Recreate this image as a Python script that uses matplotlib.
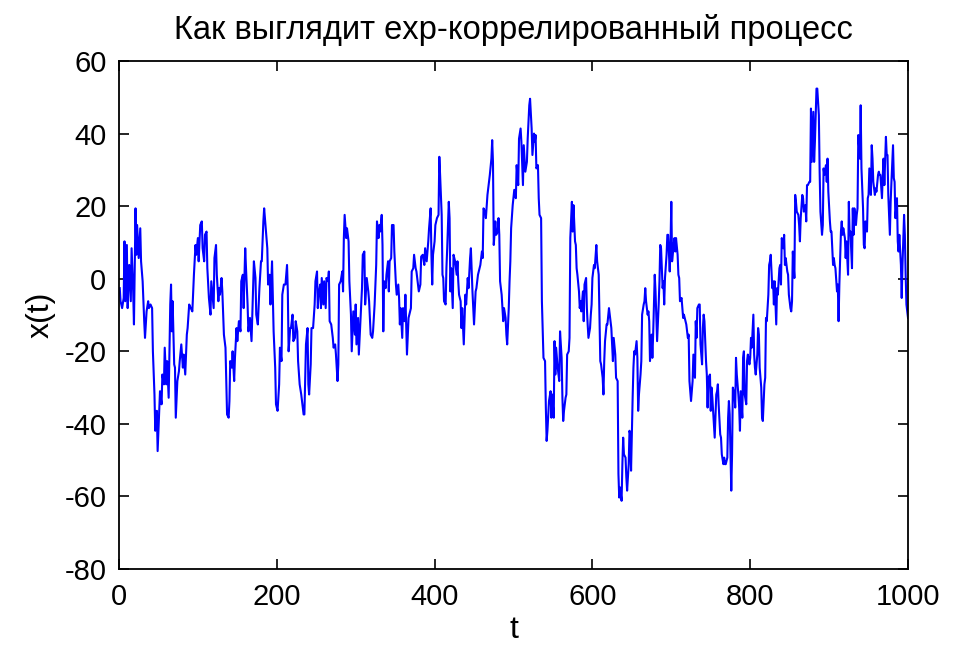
import matplotlib
matplotlib.use("Agg")
import matplotlib.pyplot as plt

# exp-correlated process x(t), sampled segment by segment over t = 1..1000
t_a = [1, 2, 4, 6, 7, 8, 10, 11, 12, 13, 15, 16, 18, 19, 21, 22, 23, 25, 27, 28,
       30, 32, 33, 35, 37, 38, 40, 42, 43, 45, 46, 48, 49, 51, 52, 54, 55, 57, 58, 60,
       61, 63, 65, 66, 67, 68, 70, 71, 72, 74, 76, 77, 79, 81, 82, 84, 86, 87, 89, 91,
       93, 95, 97, 98, 100, 101, 103, 105, 106, 108, 109, 111, 112, 114, 116, 117]
x_a = [-2.6, -6.2, -8.1, -5.3, 10.3, -6.2, 9.3, -8.1, -1.6, 3.8, -6.2, 8.4, -3.5, -12.6, 19.4, 6.6, 14.8, 5.7, 13.9, 4.8,
       -0.7, -11.7, -16.3, -9.0, -6.2, -8.1, -7.1, -8.1, -20.0, -31.9, -41.9, -36.4, -47.5, -36.4, -31.0, -34.6, -26.4, -29.1, -19.0, -29.1,
       -22.7, -32.8, -7.1, -1.6, -14.5, -6.2, -23.6, -24.5, -38.3, -28.2, -25.5, -22.7, -18.1, -24.5, -20.9, -26.4, -15.4, -13.6, -7.1, -8.1,
       -9.0, 1.1, 9.3, 6.6, 11.2, 4.8, 14.8, 15.8, 8.4, 4.8, 12.1, 13.0, 2.9, -5.3, -9.9, -0.7]

t_b = [120, 121, 123, 124, 126, 127, 128, 130, 131, 133, 135, 136, 137, 139, 140, 141, 143, 144, 146, 147,
       149, 150, 152, 154, 155, 157, 158, 160, 161, 163, 164, 166, 168, 169, 171, 173, 174, 176, 178, 180,
       181, 183, 184, 185, 187, 188, 189, 191, 192, 194, 195, 196, 198, 199, 201, 203, 204, 206, 207, 209,
       211, 213, 214, 215, 217, 218, 220, 221, 223, 224, 226, 227, 229, 231, 232, 234, 235, 237, 239, 240,
       241, 243, 244]
x_b = [-8.1, 5.7, 9.3, 1.1, -6.2, -2.6, -4.4, 0.2, -3.5, -15.4, -19.0, -28.2, -37.4, -38.3, -33.7, -22.7, -24.5, -20.0, -28.2, -21.8,
       -13.6, -17.2, -11.7, -14.5, -0.7, 1.1, -8.1, 8.4, 2.9, -7.1, -14.5, -10.8, -17.2, -9.9, 4.8, 0.2, -9.9, -12.6, -2.6, 4.8,
       4.8, 15.8, 19.4, 16.7, 11.2, 8.4, -1.6, 1.1, -7.1, 4.8, -4.4, -14.5, -24.5, -34.6, -36.4, -29.1, -19.0, -22.7, -4.4, -1.6,
       -1.6, 3.8, -3.5, -20.0, -13.6, -13.6, -9.9, -17.2, -16.3, -11.7, -14.5, -22.7, -29.1, -31.9, -33.7, -37.4, -37.4, -18.1, -13.6, -29.1,
       -31.9, -23.6, -13.6]

t_c = [246, 248, 249, 251, 252, 253, 255, 256, 257, 259, 260, 262, 263, 265, 266, 267, 269, 271, 272, 274,
       275, 277, 278, 279, 281, 283, 284, 285, 286, 288, 289, 291, 292, 294, 295, 297, 299, 300, 301, 303,
       304, 306, 308, 309, 311, 312, 314, 316, 317, 319, 321, 322, 324, 326, 327, 329, 330, 331, 333, 334,
       335, 336, 338, 339, 341, 342, 343, 345, 346, 348, 349, 351, 352, 354, 355, 356, 357, 359, 360, 362,
       363, 365, 367, 368, 370, 371]
x_c = [-13.6, -7.1, -0.7, 2.0, -8.1, -4.4, -1.6, -8.1, 0.2, -7.1, -0.7, -8.1, 0.2, -0.7, 2.0, -11.7, -12.6, -16.3, -19.0, -18.1,
       -20.9, -28.2, -23.6, -1.6, -0.7, 2.0, -3.5, 11.2, 17.6, 11.2, 13.9, 10.3, -0.7, -9.9, -20.0, -9.0, -15.4, -7.1, -18.1, -10.8,
       -20.9, -11.7, -2.6, 6.6, 7.5, -7.1, 0.2, -3.5, -6.2, -15.4, -16.3, -14.5, -7.1, 3.8, 15.8, 11.2, 14.8, 13.0, 17.6, 9.3,
       -14.5, -0.7, -2.6, 1.1, 4.8, -3.5, 4.8, 5.7, 14.8, 14.8, 7.5, -1.6, -4.4, -1.6, -5.3, -12.6, -8.1, -16.3, -8.1, -11.7,
       -4.4, -20.9, -10.8, -9.9, -8.1, 2.0]

t_d = [373, 374, 376, 377, 378, 380, 382, 383, 385, 387, 388, 390, 392, 393, 395, 396, 397, 398, 400, 401,
       403, 405, 406, 407, 409, 410, 411, 412, 414, 415, 416, 418, 419, 420, 421, 423, 424, 425, 426, 428,
       429, 430, 431, 433, 434, 435, 437, 438, 439, 440, 442, 443, 445, 446, 448, 449, 450, 452, 453, 455,
       457, 458, 460, 461, 462, 464, 465, 467, 469, 470, 472, 473, 474, 475, 477, 478, 480, 481, 482, 483,
       485, 486, 487, 488, 490, 491, 492, 494, 495, 496, 497]
x_d = [2.9, 6.6, 2.9, 2.0, 0.2, -3.5, -1.6, 6.1, 6.6, 3.8, 8.4, 4.8, 10.3, 13.9, 19.4, 6.6, -1.6, 6.6, 10.3, 14.8,
       16.7, 17.6, 33.6, 28.6, 17.6, 1.1, 0.2, -6.2, -7.1, 2.9, 8.4, 21.2, 16.7, -3.5, 2.9, -8.1, 6.6, 5.7, 4.8, 1.1,
       4.8, -0.7, -4.4, -6.2, -13.6, -8.1, -18.1, -10.8, -4.4, -7.1, 0.2, -2.6, 5.7, 8.4, -3.5, -8.1, -12.6, -3.5, -2.6, 1.1,
       2.9, 3.8, 7.5, 5.7, 19.4, 18.5, 16.7, 23.1, 26.7, 28.6, 33.1, 38.2, 32.2, 9.3, 15.8, 12.1, 13.0, 16.7, 12.1, -0.7,
       -4.4, -8.1, -11.7, -8.1, -10.8, -15.4, -18.1, -8.1, -0.7, 4.8, 13.9]

t_e = [499, 501, 503, 504, 506, 507, 509, 510, 512, 513, 515, 517, 518, 520, 521, 523, 524, 526, 527, 528,
       529, 531, 532, 533, 535, 536, 538, 540, 541, 542, 543, 545, 547, 548, 549, 551, 552, 553, 554, 556,
       557, 558, 559, 561, 562, 563, 564, 566, 567, 568, 570, 571, 572, 574, 575, 576, 578, 579, 580, 581,
       583, 584, 585, 586, 588, 589, 590, 592, 593, 594, 595, 597, 598, 599, 600, 602, 603, 605, 606, 608,
       609, 610, 611, 613, 614, 615, 616, 618, 619, 621, 622, 623, 624]
x_e = [20.3, 24.5, 22.2, 31.3, 25.8, 38.6, 41.4, 37.7, 25.8, 36.8, 29.5, 32.2, 38.6, 47.8, 49.6, 41.4, 34.1, 40.0, 37.7, 39.6,
       30.4, 31.3, 22.2, 17.6, 16.7, -6.2, -21.8, -22.7, -35.5, -44.7, -41.9, -33.7, -31.0, -38.3, -31.9, -38.3, -17.2, -26.4, -19.0, -24.5,
       -26.4, -28.2, -14.5, -21.8, -32.8, -39.2, -36.4, -32.8, -31.9, -20.9, -20.0, -16.3, 11.2, 21.2, 13.0, 20.3, 10.3, 9.3, 2.9, 1.1,
       -3.5, -8.1, -6.2, -9.0, -3.5, -11.7, -1.6, 0.2, -8.1, -12.6, -16.3, -13.6, -9.9, -7.1, 0.2, 3.8, 2.9, 9.3, 4.8, 1.1,
       -11.7, -22.7, -23.6, -27.3, -31.9, -22.7, -17.2, -12.6, -12.6, -8.1, -9.9, -11.7, -13.6]

t_f = [626, 627, 629, 630, 632, 633, 634, 635, 637, 638, 639, 640, 642, 643, 644, 646, 647, 648, 649, 651,
       652, 653, 654, 656, 657, 658, 659, 661, 662, 663, 665, 666, 667, 668, 670, 671, 672, 673, 675, 676,
       677, 679, 680, 681, 682, 684, 685, 686, 687, 689, 690, 691, 692, 694, 695, 696, 698, 699, 700, 701,
       703, 704, 705, 706, 708, 709, 710, 711, 713, 714, 715, 716, 718, 719, 721, 722, 723, 725, 726, 727,
       728, 730, 731, 732, 733, 735, 736, 737, 739, 740, 741, 742, 744, 745, 746, 747, 749, 750, 751, 752,
       754, 755]
x_f = [-22.7, -16.3, -20.9, -27.3, -28.2, -53.8, -60.3, -57.5, -61.2, -51.1, -43.8, -48.4, -49.3, -54.7, -58.4, -51.1, -41.9, -42.9, -52.9, -32.8,
       -24.5, -20.0, -20.9, -17.2, -21.8, -36.4, -31.9, -26.4, -22.7, -9.9, -7.1, -6.2, -2.6, -6.2, -9.9, -9.0, -11.7, -22.7, -15.4, -21.8,
       -15.4, 1.1, -3.5, -9.9, -17.2, -7.1, -0.7, 9.3, 8.4, -2.6, -0.7, -7.1, 0.2, 6.6, 12.1, 12.1, 2.0, 9.3, 21.2, 4.8,
       9.3, 11.2, 7.5, 11.2, 6.6, 1.1, 0.2, -6.2, -5.3, -8.1, -10.8, -9.9, -11.7, -12.6, -16.3, -15.4, -28.2, -33.7, -31.0, -28.2,
       -20.9, -27.3, -11.7, -16.3, -8.1, -7.1, -7.1, -18.1, -23.6, -13.6, -9.9, -11.7, -22.7, -26.4, -35.5, -27.3, -26.4, -36.4, -30.0, -32.8,
       -40.1, -43.8]

t_g = [757, 758, 759, 760, 762, 763, 764, 766, 767, 768, 769, 771, 772, 773, 774, 776, 777, 778, 780, 781,
       782, 783, 785, 786, 787, 788, 790, 791, 792, 793, 795, 796, 797, 799, 800, 801, 802, 804, 805, 806,
       807, 809, 810, 811, 812, 814, 815, 816, 818, 819, 820, 821, 823, 824, 825, 826, 828, 829, 830, 831,
       833, 834, 835, 837, 838, 839, 840, 842, 843, 844, 845, 847, 848, 849, 851, 852, 853, 854, 856, 857,
       858, 859, 861, 862, 863, 864, 866, 867, 868, 870, 871, 872, 873, 875, 876, 877, 878]
x_g = [-31.9, -31.0, -29.1, -34.6, -42.9, -43.8, -48.4, -51.1, -49.3, -51.1, -51.1, -49.3, -38.3, -33.7, -37.4, -58.4, -48.4, -30.0, -31.9, -35.5,
       -21.8, -26.4, -31.9, -35.5, -41.9, -31.0, -38.3, -21.8, -20.0, -31.9, -34.6, -22.7, -20.9, -23.6, -21.8, -16.3, -19.0, -9.9, -20.9, -24.5,
       -26.4, -20.9, -13.6, -15.4, -24.5, -30.0, -38.3, -39.2, -29.1, -27.3, -10.8, -11.7, -4.4, 3.8, 4.8, 6.6, -2.6, -0.7, -7.1, -0.7,
       -12.6, -2.6, -4.4, 2.9, 3.8, -1.6, 11.2, 8.4, 12.1, 3.8, 5.7, 2.0, 1.1, -4.4, -8.1, -9.0, -6.2, 7.5, 0.2, 23.1,
       21.2, 18.5, 17.6, 14.8, 10.3, 16.7, 23.1, 22.2, 18.5, 20.3, 15.8, 25.8, 25.8, 26.7, 26.7, 46.9, 32.2]

t_h = [880, 881, 882, 883, 884, 885, 887, 888, 889, 891, 892, 893, 894, 896, 897, 898, 899, 901, 902, 903,
       905, 906, 907, 908, 910, 911, 912, 913, 915, 916, 917, 918, 920, 921, 922, 924, 925, 926, 927, 929,
       930, 931, 932, 934, 935, 936, 937, 939, 940, 941, 943, 944, 945, 946, 948, 949, 950, 951, 953, 954,
       955, 956, 958, 959, 960, 962, 963, 964, 965, 967, 968, 969, 970, 972, 973, 974, 975, 977, 978, 979,
       981, 982, 983, 984, 986, 987, 988, 989, 991, 992, 993, 995, 996, 997, 998, 1000]
x_h = [46.0, 32.2, 37.7, 45.1, 52.4, 52.4, 45.1, 29.5, 18.5, 12.1, 14.8, 30.4, 28.6, 31.3, 26.7, 33.1, 24.0, 15.8, 13.0, 13.0,
       3.8, 5.7, 3.8, 2.9, -3.5, -1.6, -11.7, -1.6, 13.0, 15.8, 12.1, 13.9, 11.2, 5.7, 10.3, 1.1, 21.2, 12.1, 13.0, 2.9,
       19.4, 12.1, 19.4, 14.8, 17.6, 19.4, 39.6, 33.1, 47.8, 30.4, 19.4, 9.3, 8.4, 15.8, 13.0, 22.2, 23.1, 30.4, 23.1, 36.8,
       33.1, 26.7, 23.1, 24.9, 24.0, 28.6, 29.5, 28.6, 28.6, 22.2, 28.6, 33.1, 25.8, 39.1, 34.1, 34.1, 23.1, 12.1, 21.2, 26.7,
       36.8, 27.7, 26.7, 16.7, 22.2, 10.3, 7.5, 12.1, 3.8, -5.3, 3.8, 17.6, 12.1, 1.1, -7.1, -10.8]

segments = [(t_a, x_a), (t_b, x_b), (t_c, x_c), (t_d, x_d),
            (t_e, x_e), (t_f, x_f), (t_g, x_g), (t_h, x_h)]
t = []
x = []
for ts, xs in segments:
    assert len(ts) == len(xs), (ts[0], len(ts), len(xs))
    t += ts
    x += xs

plt.rcParams['font.family'] = ['Liberation Sans', 'DejaVu Sans']
plt.rcParams['axes.unicode_minus'] = False

fig = plt.figure(figsize=(9.54, 6.45), dpi=100)
ax = fig.add_axes([0.1247, 0.1178, 0.8271, 0.7876])

ax.plot(t, x, color='#0000ff', linewidth=1.5)

ax.set_xlim(0, 1000)
ax.set_ylim(-80, 60)
ax.set_xticks(range(0, 1001, 200))
ax.set_yticks(range(-80, 61, 20))
ax.tick_params(direction='in', top=True, right=True, length=7, width=1.2,
               labelsize=21, pad=10)
ax.tick_params(axis='y', pad=9)
for s in ax.spines.values():
    s.set_linewidth(1.3)

ax.set_title('Как выглядит exp-коррелированный процесс', fontsize=23.5, pad=16)
ax.set_xlabel('t', fontsize=23, labelpad=3)
ax.set_ylabel('x(t)', fontsize=23, labelpad=6)

fig.savefig('out.png', dpi=100, facecolor='white')
